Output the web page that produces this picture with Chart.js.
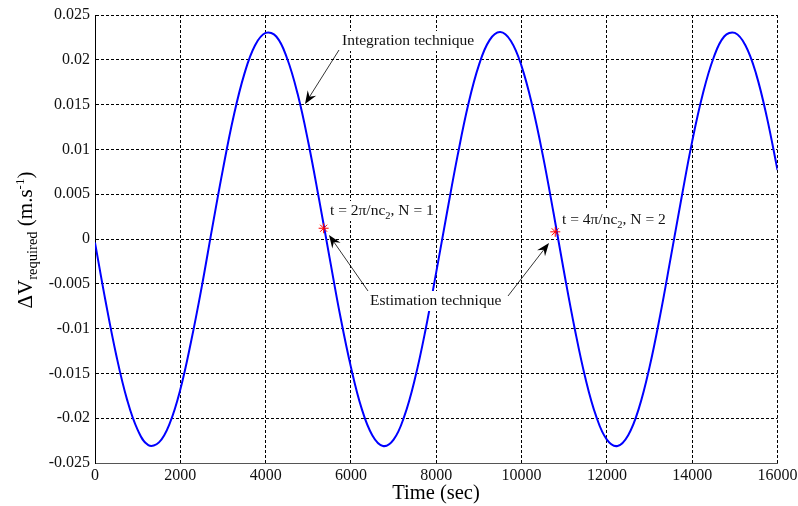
<!DOCTYPE html>
<html><head><meta charset="utf-8">
<script src="https://cdn.jsdelivr.net/npm/chart.js@4.4.0/dist/chart.umd.min.js"></script>
<style>html,body{margin:0;padding:0;background:#fff;overflow:hidden}canvas{display:block}</style>
</head><body>
<canvas id="c" width="798" height="506"></canvas>
<script>
// ---- data ----
const timeSec = [0,250,500,750,1000,1250,1500,1750,2000,2250,2500,2750,3000,3250,3500,3750,4000,4250,4500,4750,5000,5250,5500,5750,6000,6250,6500,6750,7000,7250,7500,7750,8000,8250,8500,8750,9000,9250,9500,9750,10000,10250,10500,10750,11000,11250,11500,11750,12000,12250,12500,12750,13000,13250,13500,13750,14000,14250,14500,14750,15000,15250,15500,15750,16000];
const deltaV = [
 -0.0004,-0.0070,-0.0130,-0.0179,-0.0213,-0.0230,-0.0227,-0.0206,-0.0168,-0.0115,
 -0.0054,0.0013,0.0078,0.0137,0.0184,0.0216,0.0230,0.0226,0.0202,0.0162,
 0.0108,0.0045,-0.0021,-0.0086,-0.0143,-0.0189,-0.0219,-0.0231,-0.0224,-0.0198,
 -0.0156,-0.0101,-0.0037,0.0029,0.0093,0.0150,0.0194,0.0222,0.0231,0.0221,
 0.0193,0.0149,0.0093,0.0029,-0.0038,-0.0101,-0.0156,-0.0198,-0.0224,-0.0231,
 -0.0219,-0.0189,-0.0143,-0.0085,-0.0020,0.0046,0.0109,0.0162,0.0202,0.0226,
 0.0230,0.0216,0.0184,0.0136,0.0077];
const markerTime = [5360, 10790];
const markerDeltaV = [0.0012, 0.0008];
const xTickValues = [0,2000,4000,6000,8000,10000,12000,14000,16000];
const xTickLabels = ['0','2000','4000','6000','8000','10000','12000','14000','16000'];
const yTickValues = [-0.025,-0.02,-0.015,-0.01,-0.005,0,0.005,0.01,0.015,0.02,0.025];
const yTickLabels = ['-0.025','-0.02','-0.015','-0.01','-0.005','0','0.005','0.01','0.015','0.02','0.025'];

const SERIF = '"Liberation Serif","Times New Roman",serif';

function drawRich(ctx, segs, x, y) {
  let cx = x;
  segs.forEach(s => {
    ctx.font = s.size + 'px ' + SERIF;
    ctx.fillText(s.t, cx, y + (s.dy || 0));
    cx += ctx.measureText(s.t).width;
  });
  return cx - x;
}
function richWidth(ctx, segs) {
  let w = 0;
  segs.forEach(s => { ctx.font = s.size + 'px ' + SERIF; w += ctx.measureText(s.t).width; });
  return w;
}
function arrow(ctx, x1, y1, x2, y2) {
  const ang = Math.atan2(y2 - y1, x2 - x1);
  ctx.save();
  ctx.strokeStyle = '#000'; ctx.fillStyle = '#000'; ctx.lineWidth = 0.8;
  ctx.beginPath(); ctx.moveTo(x1, y1);
  ctx.lineTo(x2 - Math.cos(ang) * 7, y2 - Math.sin(ang) * 7); ctx.stroke();
  ctx.translate(x2, y2); ctx.rotate(ang);
  ctx.beginPath(); ctx.moveTo(0, 0); ctx.lineTo(-13, -5); ctx.lineTo(-8.5, 0); ctx.lineTo(-13, 5);
  ctx.closePath(); ctx.fill();
  ctx.restore();
}

const labels = [
  {segs:[{t:'Integration technique', size:15.5}], x:342, y:45},
  {segs:[{t:'t = 2\u03C0/nc', size:15.5},{t:'2', size:10.5, dy:4},{t:', N = 1', size:15.5}], x:330, y:215},
  {segs:[{t:'t = 4\u03C0/nc', size:15.5},{t:'2', size:10.5, dy:4},{t:', N = 2', size:15.5}], x:562, y:224},
  {segs:[{t:'Estimation technique', size:15.5}], x:370, y:305}
];
const arrows = [
  [339, 50, 305, 104],
  [368, 291, 329, 235],
  [508, 296, 549, 243]
];

const annotPlugin = {
  id: 'annot',
  afterDraw(chart) {
    const ctx = chart.ctx;
    ctx.save();
    ctx.textBaseline = 'alphabetic';
    ctx.textAlign = 'left';
    labels.forEach(l => {
      const w = richWidth(ctx, l.segs);
      ctx.fillStyle = '#fff';
      ctx.fillRect(l.x - 2, l.y - 14, w + 4, 20);
      ctx.fillStyle = '#111';
      drawRich(ctx, l.segs, l.x, l.y);
    });
    arrows.forEach(a => arrow(ctx, a[0], a[1], a[2], a[3]));
    ctx.fillStyle = '#000';
    ctx.font = '20.5px ' + SERIF;
    ctx.textAlign = 'center';
    ctx.fillText('Time (sec)', 436, 499);
    ctx.textAlign = 'left';
    const ySegs = [{t:'\u0394V', size:21},{t:'required', size:14.5, dy:5},{t:' (m.s', size:21},{t:'-1', size:13, dy:-8},{t:')', size:21}];
    ctx.translate(32, 240);
    ctx.rotate(-Math.PI / 2);
    const tw = richWidth(ctx, ySegs);
    drawRich(ctx, ySegs, -tw / 2, 0);
    ctx.restore();
  }
};

const tickFont = {family: SERIF, size: 16};

new Chart(document.getElementById('c'), {
  type: 'line',
  data: {
    datasets: [
      {
        label: 'Estimation technique',
        data: markerTime.map((t, i) => ({x: t, y: markerDeltaV[i]})),
        showLine: false,
        pointStyle: 'star',
        pointRadius: 5,
        pointBorderWidth: 1,
        borderColor: '#ff0000',
        backgroundColor: '#ff0000',
        order: 0
      },
      {
        label: 'Integration technique',
        data: timeSec.map((t, i) => ({x: t, y: deltaV[i]})),
        borderColor: '#0000ff',
        borderWidth: 2,
        pointRadius: 0,
        fill: false,
        tension: 0.4,
        order: 1
      }
    ]
  },
  options: {
    responsive: false,
    animation: false,
    devicePixelRatio: 1,
    layout: {padding: {left: 0, top: 15, right: 20.5, bottom: 0}},
    plugins: {legend: {display: false}, tooltip: {enabled: false}},
    scales: {
      x: {
        type: 'linear', min: 0, max: 16000,
        afterBuildTicks: s => { s.ticks = xTickValues.map(v => ({value: v})); },
        afterFit: s => { s.height = 43; s.paddingLeft = 0; s.paddingRight = 0; },
        ticks: {font: tickFont, color: '#111', padding: 3, maxRotation: 0, autoSkip: false,
                callback: (v, i) => xTickLabels[i]},
        grid: {color: '#000', lineWidth: 1, drawTicks: false},
        border: {display: true, color: '#555', width: 1, dash: [3, 2]}
      },
      y: {
        type: 'linear', min: -0.025, max: 0.025,
        afterBuildTicks: s => { s.ticks = yTickValues.map(v => ({value: v})); },
        afterFit: s => { s.width = 95; s.paddingTop = 0; s.paddingBottom = 0; },
        ticks: {font: tickFont, color: '#111', padding: 5, autoSkip: false,
                callback: (v, i) => yTickLabels[i]},
        grid: {color: '#000', lineWidth: 1, drawTicks: false},
        border: {display: true, color: '#000', width: 1, dash: [3, 2]}
      }
    }
  },
  plugins: [annotPlugin]
});
</script>
</body></html>
